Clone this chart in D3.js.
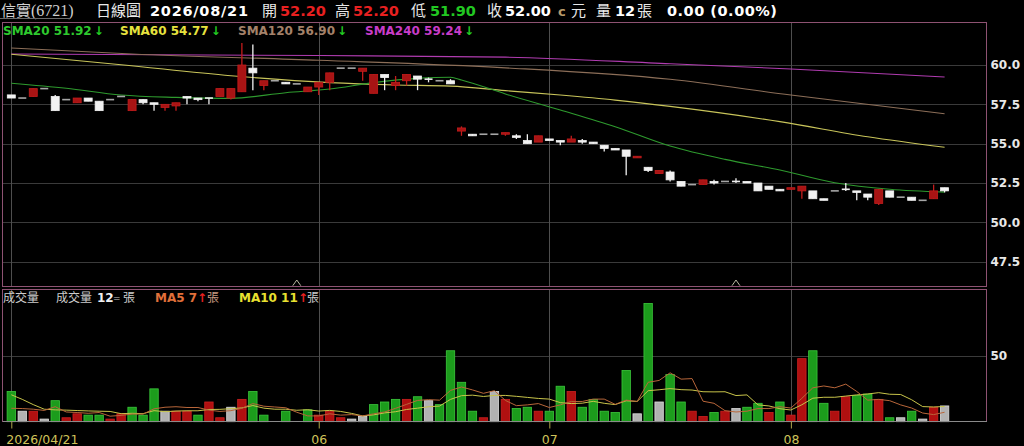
<!DOCTYPE html>
<html><head><meta charset="utf-8">
<script src="https://cdn.jsdelivr.net/npm/d3@7"></script>
<style>
html,body{margin:0;padding:0;background:#000;overflow:hidden;}
svg{display:block;}
</style></head><body>
<svg id="chart" width="1024" height="446"></svg>
<script>
// ---------- data ----------
const dateTickIdx    = [0, 28, 49, 71];
const dateTickLabels = ["2026/04/21", "06", "07", "08"];
const priceTicks = [47.5, 50, 52.5, 55, 57.5, 60];
const volTicks   = [50];

const opens  = [58.1,57.9,58.0,58.5,58.0,57.8,57.6,57.9,57.7,57.8, 58.0,57.1,57.8,57.6,57.3,57.4,58.0,57.9,57.9,58.0,
                57.9,58.3,59.8,58.7,59.0,58.9,58.8,58.3,58.6,58.9, 59.8,59.8,59.6,58.2,59.4,58.7,59.0,59.3,59.1,59.0,
                59.0,55.8,55.6,55.6,55.6,55.6,55.5,55.2,55.1,55.3, 55.2,55.1,55.2,55.1,54.9,54.7,54.6,54.1,53.5,53.1,
                53.2,52.6,52.4,52.4,52.6,52.6,52.6,52.6,52.5,52.3, 52.1,52.1,52.0,52.0,51.5,52.0,52.1,52.0,51.8,51.2,
                52.0,51.6,51.6,51.4,51.5,52.2];
const highs  = [58.1,57.9,58.5,58.5,58.1,57.8,57.9,57.9,57.7,57.8, 58.0,57.8,57.8,57.6,57.5,57.6,58.0,57.9,57.9,58.5,
                58.5,61.4,61.3,59.0,59.0,58.9,58.8,58.6,58.9,59.5, 59.8,59.8,59.8,59.4,59.4,59.3,59.4,59.3,59.2,59.0,
                59.1,56.1,55.6,55.6,55.6,55.7,55.6,55.6,55.5,55.3, 55.2,55.5,55.3,55.1,54.9,54.7,54.6,54.2,53.5,53.3,
                53.3,52.6,52.4,52.7,52.7,52.6,52.8,52.6,52.5,52.3, 52.1,52.2,52.3,52.0,51.5,52.0,52.5,52.0,51.8,52.1,
                52.0,51.6,51.6,51.4,52.4,52.2];
const lows   = [57.9,57.9,58.0,58.5,57.1,57.8,57.6,57.7,57.1,57.8, 58.0,57.1,57.5,57.1,57.1,57.1,57.5,57.7,57.5,58.0,
                57.8,58.3,58.4,58.4,59.0,58.8,58.8,58.3,58.1,58.4, 59.8,59.8,59.0,58.2,58.4,58.4,58.7,58.4,58.9,59.0,
                58.8,55.5,55.5,55.6,55.6,55.5,55.3,55.0,55.1,55.2, 54.9,55.1,55.0,55.0,54.5,54.6,53.0,54.1,53.2,53.1,
                52.6,52.3,52.4,52.4,52.4,52.6,52.5,52.5,52.0,52.1, 52.0,52.1,51.5,51.5,51.4,52.0,52.0,51.4,51.4,51.1,
                51.6,51.6,51.4,51.4,51.5,51.9];
const closes = [57.9,57.9,58.5,58.5,57.1,57.8,57.9,57.7,57.1,57.8, 58.0,57.8,57.6,57.5,57.5,57.6,57.9,57.8,57.9,58.5,
                58.5,60.0,59.5,59.0,59.0,58.8,58.8,58.6,58.9,59.5, 59.8,59.8,59.8,59.4,59.2,58.9,59.4,59.1,59.1,59.0,
                58.8,56.0,55.5,55.6,55.6,55.7,55.4,55.0,55.5,55.2, 55.1,55.3,55.1,55.0,54.7,54.6,54.2,54.2,53.3,53.3,
                52.7,52.3,52.4,52.7,52.5,52.6,52.6,52.5,52.0,52.1, 52.0,52.2,52.3,51.5,51.4,52.0,52.1,51.9,51.6,52.1,
                51.6,51.6,51.4,51.4,52.0,52.0];
const closeBefore = 58.2;   // previous session close (first volume bar is a down day)
const volumes = [23,8,8,2,16,3,6,5,5,2, 6,11,5,25,8,8,8,5,15,3,
                 11,17,23,5,0,8,0,9,5,8, 3,2,4,13,15,17,17,19,16,13,
                 54,30,8,3,23,17,10,11,8,8, 27,23,11,17,8,7,39,6,90,15,
                 36,15,8,4,7,8,10,11,14,7, 15,5,48,54,14,8,19,20,21,17,
                 3,3,8,2,11,12];

// moving average lines of price, sampled as [index, value]
const sma20Pts  = [[0,58.84],[5,58.52],[10,58.09],[15,57.94],[20,57.88],[25,58.24],[29,58.47],[33,58.88],[37,59.15],
                   [40,59.22],[41,59.05],[45,58.16],[50,57.14],[55,56.08],[60,54.85],[65,54.0],[70,53.33],[75,52.52],[80,52.1],[85,51.92]];
const sma60Pts  = [[0,60.68],[10,60.02],[20,59.32],[29,58.88],[35,58.73],[40,58.66],[45,58.37],[50,58.09],[55,57.77],
                   [60,57.37],[70,56.4],[78,55.44],[85,54.77]];
const sma120Pts = [[0,61.08],[11,60.7],[28,60.3],[45,59.82],[60,59.09],[71,58.09],[85,56.9]];
const sma240Pts = [[0,60.7],[28,60.6],[45,60.5],[60,60.08],[71,59.75],[85,59.24]];
// volume MA values before a full window is available
const volMa5Head  = [10.2, 10.0, 9.5, 8.6];
const volMa10Head = [20.5, 17, 13, 9.5, 9.0, 8.8, 8.5, 8.2, 8.0];
const markerIdx = [26, 66];

// ---------- layout ----------
const svg = d3.select("#chart");
const L = 2.5, R = 986.5, PT = 22.5, PB = 286.5, VT = 289.5, VB = 421.5;
const x  = d3.scaleLinear().domain([0, closes.length - 1]).range([11.3, 944.6]);
const y  = d3.scaleLinear().domain([45.91, 62.733]).range([286.7, 22]);
const yv = d3.scaleLinear().domain([0, 101]).range([421.7, 289]);

// grid
const grid = svg.append("g").attr("shape-rendering", "crispEdges");
grid.selectAll(".hp").data(priceTicks).join("line")
  .attr("x1", L).attr("x2", R).attr("y1", d => Math.round(y(d)) + 0.5).attr("y2", d => Math.round(y(d)) + 0.5)
  .attr("stroke", "#3a3a3a");
grid.selectAll(".hv").data(volTicks).join("line")
  .attr("x1", L).attr("x2", R).attr("y1", d => Math.round(yv(d)) + 0.5).attr("y2", d => Math.round(yv(d)) + 0.5)
  .attr("stroke", "#3a3a3a");
grid.selectAll(".vp").data(dateTickIdx).join("line")
  .attr("x1", d => Math.round(x(d)) + 0.5).attr("x2", d => Math.round(x(d)) + 0.5)
  .attr("y1", PT).attr("y2", PB).attr("stroke", "#4e4e4e");
grid.selectAll(".vv").data(dateTickIdx).join("line")
  .attr("x1", d => Math.round(x(d)) + 0.5).attr("x2", d => Math.round(x(d)) + 0.5)
  .attr("y1", VT).attr("y2", VB).attr("stroke", "#4e4e4e");

// SMA lines
const line = d3.line().x(d => x(d[0])).y(d => y(d[1])).curve(d3.curveMonotoneX);
[[sma240Pts, "#b03cb0"], [sma120Pts, "#8c6e58"], [sma60Pts, "#c8c45a"], [sma20Pts, "#2e9a2e"]].forEach(([pts, c]) => {
  svg.append("path").attr("d", line(pts)).attr("fill", "none").attr("stroke", c).attr("stroke-width", 1.1);
});

// candles
const bw = 8;
const cg = svg.append("g");
closes.forEach((c, i) => {
  const o = opens[i], h = highs[i], l = lows[i], cx = x(i);
  let col;
  if (c > o) col = "#c41c1c";
  else if (c < o) col = "#f2f2f2";
  else col = (h === l) ? "#a6a6a6" : "#eeeeee";
  if (h > l) {
    cg.append("line").attr("x1", cx).attr("x2", cx).attr("y1", y(h)).attr("y2", y(l))
      .attr("stroke", col).attr("stroke-width", 1.3);
  }
  const top = y(Math.max(o, c)), bot = y(Math.min(o, c));
  const hh = Math.max(bot - top, 1.6);
  cg.append("rect").attr("x", cx - bw / 2).attr("y", top - (hh - (bot - top)) / 2)
    .attr("width", bw).attr("height", hh)
    .attr("fill", c > o ? "#a81414" : col).attr("stroke", c === o ? "none" : col).attr("stroke-width", 0.8);
});

// markers
svg.append("g").selectAll("path").data(markerIdx).join("path")
  .attr("d", d => `M${x(d) - 4},${PB - 0.8} L${x(d)},${PB - 6.5} L${x(d) + 4},${PB - 0.8}`)
  .attr("fill", "none").attr("stroke", "#b8b8a0").attr("stroke-width", 1);

// volume bars
const vg = svg.append("g");
volumes.forEach((v, i) => {
  const prev = i === 0 ? closeBefore : closes[i - 1];
  let fill, stroke;
  if (closes[i] > prev) { fill = "#b01010"; stroke = "#cc2020"; }
  else if (closes[i] < prev) { fill = "#1c9c1c"; stroke = "#3cc83c"; }
  else { fill = "#b2b2b2"; stroke = "#dcdcdc"; }
  if (v <= 0) return;
  vg.append("rect").attr("x", x(i) - 4.2).attr("y", yv(v)).attr("width", 8.4).attr("height", yv(0) - yv(v))
    .attr("fill", fill).attr("stroke", stroke).attr("stroke-width", 0.8);
});

// volume MA lines
function volMa(n, head) {
  return volumes.map((v, i) => [i, i < n - 1 ? head[i] : d3.mean(volumes.slice(i - n + 1, i + 1))]);
}
const vline = d3.line().x(d => x(d[0])).y(d => yv(d[1]));
svg.append("path").attr("d", vline(volMa(10, volMa10Head))).attr("fill", "none").attr("stroke", "#c8c44a").attr("stroke-width", 1);
svg.append("path").attr("d", vline(volMa(5, volMa5Head))).attr("fill", "none").attr("stroke", "#b8663a").attr("stroke-width", 1);

// borders
const bd = svg.append("g").attr("shape-rendering", "crispEdges").attr("fill", "none");
bd.append("rect").attr("x", L).attr("y", PT).attr("width", R - L).attr("height", PB - PT).attr("stroke", "#8e5272");
bd.append("rect").attr("x", L).attr("y", VT).attr("width", R - L).attr("height", VB - VT).attr("stroke", "#8e5272");
bd.append("line").attr("x1", L).attr("x2", R).attr("y1", VB).attr("y2", VB).attr("stroke", "#8a8a8a");

// axes
const yAxis = svg.append("g").attr("transform", `translate(${R},0)`)
  .call(d3.axisRight(y).tickValues(priceTicks).tickFormat(d3.format(".1f")).tickSize(0).tickPadding(4));
const vAxis = svg.append("g").attr("transform", `translate(${R},0)`)
  .call(d3.axisRight(yv).tickValues(volTicks).tickFormat(d3.format("d")).tickSize(0).tickPadding(4));
[yAxis, vAxis].forEach(g => {
  g.select(".domain").remove();
  g.selectAll("text").attr("fill", "#e8e8e8").attr("font-family", "DejaVu Sans").attr("font-weight", "bold").attr("font-size", 12);
});
const xAxis = svg.append("g").attr("transform", `translate(0,${VB})`)
  .call(d3.axisBottom(x).tickValues(dateTickIdx).tickFormat((d, i) => dateTickLabels[i]).tickSize(7));
xAxis.select(".domain").remove();
xAxis.selectAll("line").attr("stroke", "#b0a64a");
xAxis.selectAll("text").attr("fill", "#cfc35a").attr("font-family", "DejaVu Sans").attr("font-size", 12.5)
  .attr("y", 22).attr("dy", 0);
xAxis.selectAll("text").filter((d, i) => i === 0).attr("text-anchor", "start").attr("x", -5.5);

// ---------- texts ----------
function txt(px, py, s, o = {}) {
  return svg.append("text").attr("x", px).attr("y", py).text(s)
    .attr("fill", o.fill || "#e8e8e8")
    .attr("font-family", o.family || "'DejaVu Sans', 'Noto Sans CJK TC'")
    .attr("font-size", o.size || 14)
    .attr("font-weight", o.weight || "normal");
}
const cjk = "'Noto Sans CJK TC'";
const num = "'DejaVu Sans'";
// header
txt(1, 16, "信實", { family: cjk, size: 15, fill: "#cfcfcf" });
txt(31, 16, "(6721)", { family: "'Liberation Serif'", size: 16, fill: "#cfcfcf" });
svg.append("line").attr("x1", 0).attr("x2", 70).attr("y1", 18.5).attr("y2", 18.5).attr("stroke", "#6a6a6a");
txt(96, 16, "日線圖", { family: cjk, size: 15 });
txt(150, 16, "2026/08/21", { family: num, size: 14.5, weight: "bold", fill: "#ffffff" }).attr("textLength", 98).attr("lengthAdjust", "spacing");
txt(262, 16, "開", { family: cjk, size: 15 });
txt(280, 16, "52.20", { family: num, size: 14.5, weight: "bold", fill: "#e82020" });
txt(335, 16, "高", { family: cjk, size: 15 });
txt(353, 16, "52.20", { family: num, size: 14.5, weight: "bold", fill: "#e82020" });
txt(411, 16, "低", { family: cjk, size: 15 });
txt(430, 16, "51.90", { family: num, size: 14.5, weight: "bold", fill: "#22c822" });
txt(487, 16, "收", { family: cjk, size: 15 });
txt(505, 16, "52.00", { family: num, size: 14.5, weight: "bold", fill: "#ffffff" });
txt(558, 16, "c", { family: num, size: 13, weight: "bold", fill: "#b89a6a" });
txt(571, 16, "元", { family: cjk, size: 15 });
txt(596, 16, "量", { family: cjk, size: 15 });
txt(615, 16, "12", { family: num, size: 14.5, weight: "bold", fill: "#ffffff" });
txt(637, 16, "張", { family: cjk, size: 15 });
txt(667, 16, "0.00 (0.00%)", { family: num, size: 14.5, weight: "bold", fill: "#ffffff" }).attr("textLength", 110).attr("lengthAdjust", "spacing");

// SMA legend
const legend = [
  [3, "SMA20 51.92", "#2ec82e"], [120, "SMA60 54.77", "#e6e23e"],
  [238, "SMA120 56.90", "#a4826a"], [365, "SMA240 59.24", "#c83cc8"]
];
legend.forEach(([lx, s, c]) => {
  const t = txt(lx, 35, null, { family: num, size: 12, weight: "bold" });
  t.append("tspan").text(s).attr("fill", c);
  t.append("tspan").text("↓").attr("fill", "#22cc22").attr("dx", 2);
});

// volume legend
txt(3, 302, "成交量", { family: cjk, size: 12, fill: "#cccccc" });
txt(56, 302, "成交量", { family: cjk, size: 12, fill: "#cccccc" });
txt(97, 302, "12", { family: num, size: 12, weight: "bold", fill: "#f0f0f0" });
txt(113, 301, "=", { family: num, size: 9, fill: "#cccccc" });
txt(123, 302, "張", { family: cjk, size: 12, fill: "#cccccc" });
txt(155, 302, "MA5 7", { family: num, size: 12, weight: "bold", fill: "#e0703a" });
txt(197, 302, "↑", { family: num, size: 12, weight: "bold", fill: "#e82020" });
txt(207, 302, "張", { family: cjk, size: 12, fill: "#c89a80" });
txt(239, 302, "MA10 11", { family: num, size: 12, weight: "bold", fill: "#e8e030" });
txt(298, 302, "↑", { family: num, size: 12, weight: "bold", fill: "#e82020" });
txt(307, 302, "張", { family: cjk, size: 12, fill: "#cccccc" });
</script>
</body></html>
